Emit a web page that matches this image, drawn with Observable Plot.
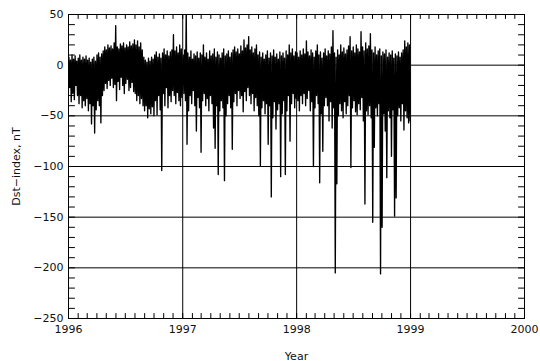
<!DOCTYPE html>
<html>
<head>
<meta charset="utf-8">
<script src="https://cdn.jsdelivr.net/npm/d3@7"></script>
<script src="https://cdn.jsdelivr.net/npm/@observablehq/plot@0.6"></script>
<style>
  body { margin: 0; background: #fff; }
</style>
</head>
<body>
<div id="chart"></div>
<script>
// Dst index, 1996–1998: highest and lowest value in each 5-day bin (nT)
const years = [1996, 1997, 1998];
const binDays = 5;

const dst1996High = [
  8, 5, 10, 6, 9, 4, 7, 10, 5, 8,
  6, 9, 5, 7, 3, 6, 8, 4, 10, 12,
  8, 11, 14, 18, 15, 20, 17, 19, 16, 22,
  39, 18, 16, 21, 19, 22, 17, 20, 18, 23,
  19, 21, 25, 20, 24, 18, 22, 15, 8, 5,
  3, 7, 4, 8, 6, 10, 13, 8, 11, 7,
  12, 16, 10, 14, 9, 13, 15, 30, 14, 18,
  12, 20, 16
];
const dst1996Low = [
  -22, -36, -28, -34, -20, -30, -38, -30, -42, -35,
  -40, -33, -45, -38, -58, -40, -67, -44, -35, -40,
  -57, -30, -25, -18, -23, -15, -20, -13, -22, -19,
  -35, -16, -24, -12, -20, -28, -18, -14, -25, -22,
  -17, -26, -28, -35, -30, -38, -33, -40, -45, -40,
  -52, -43, -48, -41, -50, -35, -49, -30, -44, -104,
  -28, -40, -22, -42, -30, -36, -25, -30, -38, -27,
  -35, -40, -32
];

const dst1997High = [
  10, 15, 55, 12, 8, 14, 6, 11, 9, 13,
  7, 12, 10, 20, 8, 12, 6, 14, 9, 11,
  16, 8, 13, 10, 7, 12, 16, 9, 11, 14,
  8, 12, 15, 18, 13, 16, 11, 19, 14, 25,
  17, 20, 28, 15, 18, 12, 16, 20, 10, 13,
  8, 12, 6, 10, 14, 7, 12, 9, 15, 8,
  11, 6, 13, 9, 12, 7, 14, 10, 20, 12,
  16, 9, 13
];
const dst1997Low = [
  -28, -35, -78, -45, -30, -38, -25, -40, -65, -32,
  -42, -86, -35, -28, -40, -33, -45, -30, -38, -62,
  -82, -40, -108, -45, -35, -42, -114, -50, -38, -30,
  -42, -83, -36, -28, -40, -25, -33, -30, -46, -26,
  -35, -22, -30, -38, -28, -45, -32, -40, -50, -99,
  -42, -35, -48, -38, -78, -40, -130, -52, -36, -63,
  -44, -38, -110, -48, -35, -108, -45, -30, -75, -38,
  -28, -42, -33
];

const dst1998High = [
  12, 8, 14, 10, 16, 11, 24, 13, 9, 15,
  12, 8, 14, 20, 10, 13, 7, 12, 16, 9,
  14, 11, 18, 34, 12, 8, 15, 10, 20, 13,
  17, 11, 15, 19, 28, 14, 18, 12, 20, 16,
  13, 33, 18, 14, 22, 16, 19, 31, 15, 12,
  18, 10, 14, 16, 9, 13, 11, 15, 8, 12,
  10, 14, 7, 11, 9, 13, 8, 12, 15, 24,
  18, 22, 20
];
const dst1998Low = [
  -35, -45, -30, -38, -28, -40, -33, -25, -45, -36,
  -100, -42, -30, -38, -116, -48, -85, -40, -32, -40,
  -55, -36, -62, -42, -205, -117, -50, -38, -45, -52,
  -36, -48, -40, -30, -101, -42, -35, -46, -49, -38,
  -44, -32, -55, -137, -45, -49, -40, -52, -155, -81,
  -42, -50, -38, -206, -160, -48, -65, -111, -45, -52,
  -90, -44, -149, -131, -50, -42, -55, -38, -64, -45,
  -52, -57, -55
];

// Axis ticks
const yearTicks = [1996, 1997, 1998, 1999, 2000];
const dstGrid = [50, 0, -50, -100, -150, -200, -250];
const dstMinor = d3.range(-250, 51, 10);

const yearDate = (y) => new Date(Date.UTC(y, 0, 1));
const DAY = 864e5;

// Zig-zag trace: high then low within each bin
const highs = [dst1996High, dst1997High, dst1998High];
const lows = [dst1996Low, dst1997Low, dst1998Low];
const series = [];
years.forEach((yr, k) => {
  const start = Date.UTC(yr, 0, 1);
  highs[k].forEach((h, i) => {
    series.push({date: new Date(start + (i * binDays + 1.25) * DAY), dst: h});
    series.push({date: new Date(start + (i * binDays + 3.75) * DAY), dst: lows[k][i]});
  });
});

const months = d3.utcMonth.range(yearDate(1996), yearDate(2000));

// Inward-pointing tick mark shape for the frame
const tickShape = {draw(ctx, l) { ctx.moveTo(0, 0); ctx.lineTo(0, -l); }};
const tickOpts = {shape: tickShape, anchor: "start", stroke: "black", fill: "none", strokeWidth: 1};

const chart = Plot.plot({
  width: 540,
  height: 361,
  marginLeft: 68,
  marginRight: 16,
  marginTop: 14,
  marginBottom: 43,
  style: {fontFamily: "DejaVu Sans, sans-serif", fontSize: "11px", color: "#111", background: "white"},
  x: {type: "utc", domain: [yearDate(1996), yearDate(2000)]},
  y: {domain: [-250, 50]},
  marks: [
    Plot.ruleY(dstGrid, {stroke: "black", strokeWidth: 1}),
    Plot.ruleX(yearTicks.map(yearDate), {stroke: "black", strokeWidth: 1}),
    Plot.line(series, {x: "date", y: "dst", stroke: "black", strokeWidth: 1.35, clip: true}),
    Plot.vector(dstMinor, {y: (d) => d, frameAnchor: "left", rotate: 90, length: 6, ...tickOpts}),
    Plot.vector(dstMinor, {y: (d) => d, frameAnchor: "right", rotate: -90, length: 6, ...tickOpts}),
    Plot.vector(months, {x: (d) => d, frameAnchor: "top", rotate: 180, length: 4, ...tickOpts}),
    Plot.vector(months, {x: (d) => d, frameAnchor: "bottom", rotate: 0, length: 5, ...tickOpts}),
    Plot.frame({stroke: "black", strokeWidth: 1}),
    Plot.axisX(yearTicks.map(yearDate), {
      tickSize: 0, tickPadding: 7, tickFormat: d3.utcFormat("%Y"),
      label: "Year", labelAnchor: "center", labelArrow: "none", labelOffset: 41
    }),
    Plot.axisY(dstGrid, {
      tickSize: 0, tickPadding: 5,
      label: "Dst−index, nT", labelAnchor: "center", labelArrow: "none", labelOffset: 56
    })
  ]
});

document.getElementById("chart").appendChild(chart);
</script>
</body>
</html>
